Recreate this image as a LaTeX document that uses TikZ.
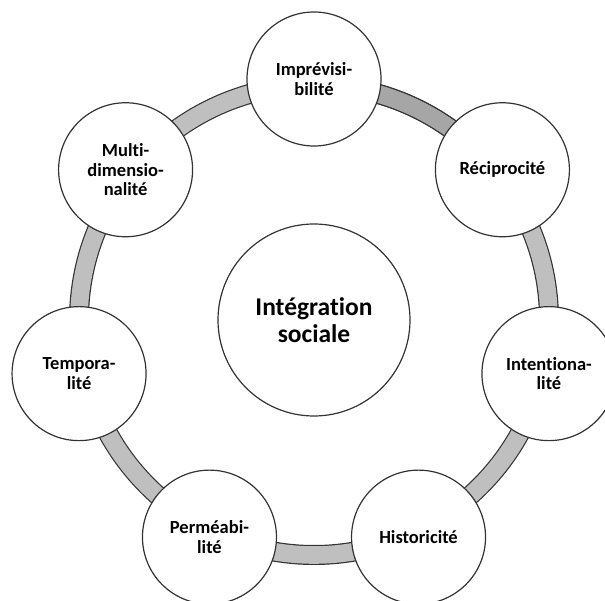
\documentclass[tikz,border=0pt]{standalone}
\usepackage{fontspec}
\setmainfont[Ligatures=NoCommon]{Carlito}
\begin{document}
\begin{tikzpicture}[x=1pt,y=1pt,
  outer/.style={circle,draw=black!80,line width=1.2pt,fill=white,minimum size=134pt,inner sep=0pt,align=center,
    font=\bfseries\fontsize{18.5}{19.5}\selectfont},
  inner/.style={circle,draw=black!80,line width=1.2pt,fill=white,minimum size=192pt,inner sep=0pt,align=center,
    font=\bfseries\fontsize{25.5}{27}\selectfont},
  ringout/.style={line width=20pt,draw=black!80},
  ringin/.style={line width=17.6pt},
]
\useasboundingbox (0,0) rectangle (605,600);
\clip (0,0) rectangle (605,600);
\coordinate (O) at (314,280);
% ring
\draw[ringout] (O) circle (235);
\draw[ringin,draw=black!25] (O) circle (235);
\draw[ringout] ([shift={(90:235)}]O) arc (90:38.57:235);
\draw[ringin,draw=black!35] ([shift={(90:235)}]O) arc (90:38.57:235);
% nodes
\node[inner] (c) at (O) {Intégration\\sociale};
\node[outer] (n1) at ([shift={(90:241)}]O) {Imprévisi-\\bilité};
\node[outer] (n2) at ([shift={(38.57:241)}]O) {Réciprocité};
\node[outer] (n3) at ([shift={(-12.86:241)}]O) {Intentiona-\\lité};
\node[outer] (n4) at ([shift={(-64.29:241)}]O) {Historicité};
\node[outer] (n5) at ([shift={(-115.71:241)}]O) {Perméabi-\\lité};
\node[outer] (n6) at ([shift={(-167.14:241)}]O) {Tempora-\\lité};
\node[outer] (n7) at ([shift={(141.43:241)}]O) {Multi-\\dimensio-\\nalité};
\end{tikzpicture}
\end{document}
